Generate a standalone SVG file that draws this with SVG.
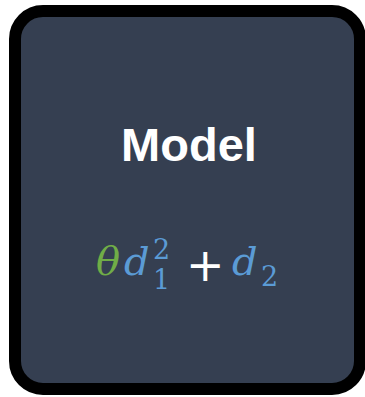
<svg xmlns="http://www.w3.org/2000/svg" width="365" height="397" viewBox="0 0 365 397">
<style>
.title{font-family:"Liberation Sans",Arial,sans-serif;font-weight:bold;font-size:47px;fill:#ffffff;text-anchor:middle}
.m{font-family:"DejaVu Serif","Liberation Serif",serif;font-style:italic;font-size:40px}
.n{font-family:"DejaVu Serif","Liberation Serif",serif;font-style:normal;font-size:27px}
.p{font-family:"DejaVu Sans","Liberation Sans",sans-serif;font-style:normal;font-size:46px}
.g{fill:#70ad47}.b{fill:#5b9bd5}.w{fill:#ffffff}
</style>
<g id="model">
<rect x="15" y="11" width="345" height="378" rx="28" ry="28" fill="#353f51" stroke="#000000" stroke-width="12"/>
<text class="title" x="189" y="161">Model</text>
<g id="formula">
<text class="m g" x="96" y="275">θ</text>
<text class="m b" x="124" y="275">d</text>
<text class="n b" x="153" y="259">2</text>
<text class="n b" x="153" y="289">1</text>
<text class="p w" x="186" y="281">+</text>
<text class="m b" x="232" y="275">d</text>
<text class="n b" x="261" y="286">2</text>
</g>
</g>
</svg>
